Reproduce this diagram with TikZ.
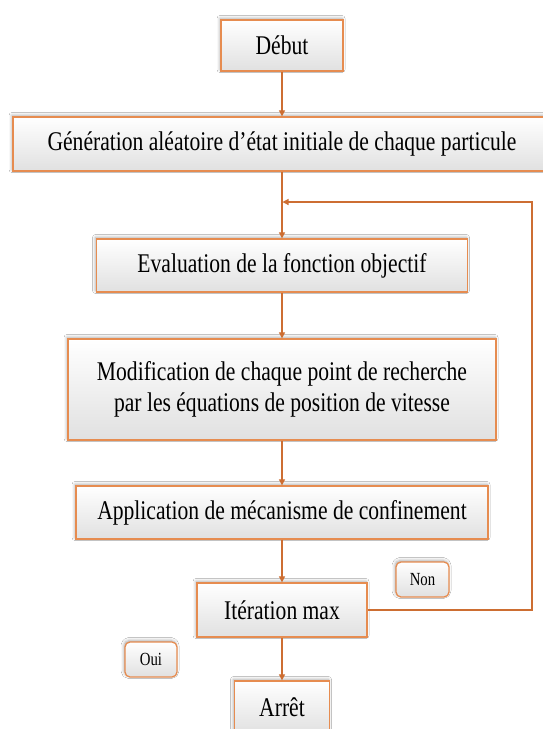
\documentclass[tikz,border=0pt]{standalone}
\usepackage{fontspec}
\setmainfont[FakeStretch=0.8]{Liberation Serif}
\usetikzlibrary{arrows.meta,shadows.blur}
\definecolor{boxborder}{RGB}{230,140,80}
\definecolor{conncol}{RGB}{205,110,50}
\tikzset{
  box/.style={draw=boxborder, line width=1.3pt, top color=white, bottom color=gray!24,
    inner sep=0pt, align=center, font=\fontsize{27}{31}\selectfont,
    blur shadow={shadow xshift=-1pt, shadow yshift=1.5pt, shadow blur radius=3pt, shadow opacity=35}},
  tag/.style={box, rounded corners=5pt, font=\fontsize{18.5}{20}\selectfont},
  conn/.style={draw=conncol, line width=1.2pt, -{Triangle[width=6pt,length=6pt]}}
}
\begin{document}
\begin{tikzpicture}[x=1pt,y=1pt]
\useasboundingbox (0,0) rectangle (543,-729);
\fill[white] (0,0) rectangle (543,-729);
\node[box, minimum width=122pt, minimum height=51pt] (debut) at (282,-45.5) {Début};
\node[box, minimum width=538pt, minimum height=54pt] (gen) at (282,-144) {Génération aléatoire d’état initiale de chaque particule};
\node[box, minimum width=371pt, minimum height=53pt] (eval) at (282,-265.5) {Evaluation de la fonction objectif};
\node[box, minimum width=428pt, minimum height=101pt] (modif) at (282,-389.5) {Modification de chaque point de recherche\\par les équations de position de vitesse};
\node[box, minimum width=412pt, minimum height=53pt] (appl) at (282,-512.5) {Application de mécanisme de confinement};
\node[tag, minimum width=53pt, minimum height=35pt] (non) at (422.5,-579.5) {Non};
\node[box, minimum width=170pt, minimum height=54pt] (iter) at (282,-610) {Itération max};
\node[tag, minimum width=52pt, minimum height=35pt] (oui) at (151,-659.5) {Oui};
\node[box, minimum width=95pt, minimum height=53pt] (arret) at (282,-707.5) {Arrêt};
\coordinate (lp) at (282.5,-202);
\coordinate (rc) at (532,-202);
\draw[conn] (debut.south) -- (gen.north);
\draw[conn] (gen.south) -- (eval.north);
\draw[conn] (eval.south) -- (modif.north);
\draw[conn] (modif.south) -- (appl.north);
\draw[conn] (appl.south) -- (iter.north);
\draw[conn] (iter.south) -- (arret.north);
\draw[conn] (iter.east) -| (rc) -- (lp);
\end{tikzpicture}
\end{document}
